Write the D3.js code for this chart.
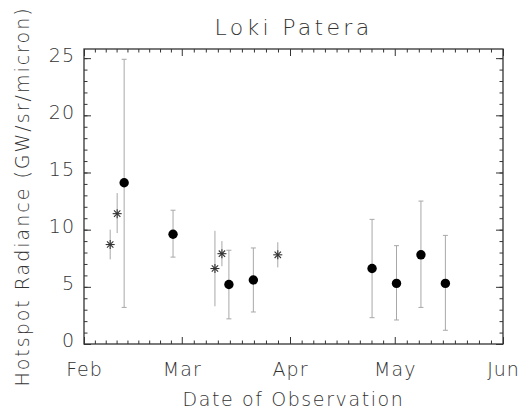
<!DOCTYPE html>
<html>
<head>
<meta charset="utf-8">
<script src="https://cdn.jsdelivr.net/npm/d3@7"></script>
<style>
    body { margin: 0; background: #fff; }
    svg { display: block; }
    svg text { font-family: "DejaVu Sans", sans-serif; font-weight: 200; fill: #333; }
</style>
</head>
<body>
<svg width="521" height="411"></svg>
<script>
// observations (noon UT), radiance and error bar bounds
var obsDates = ['2001-02-08', '2001-02-10', '2001-02-12', '2001-02-26', '2001-03-10', '2001-03-12',
    '2001-03-14', '2001-03-21', '2001-03-28', '2001-04-24', '2001-05-01', '2001-05-08', '2001-05-15'];
var radiance = [8.7, 11.4, 14.1, 9.6, 6.6, 7.9, 5.2, 5.6, 7.8, 6.6, 5.3, 7.8, 5.3];
var errLow = [7.4, 9.7, 3.2, 7.6, 3.3, 6.8, 2.2, 2.8, 6.7, 2.3, 2.1, 3.2, 1.2];
var errHigh = [10.0, 13.2, 24.9, 11.7, 9.9, 9.0, 8.2, 8.4, 8.9, 10.9, 8.6, 12.5, 9.5];
var markerType = ['star', 'star', 'circle', 'circle', 'star', 'star',
    'circle', 'circle', 'star', 'circle', 'circle', 'circle', 'circle'];

// axis ticks
var monthStarts = ['2001-02-01', '2001-03-01', '2001-04-01', '2001-05-01', '2001-06-01'];
var monthLabels = ['Feb', 'Mar', 'Apr', 'May', 'Jun'];
var yTicks = [0, 5, 10, 15, 20, 25];
var yMinorTicks = d3.range(0, 26, 1);

var parseDay = d3.utcParse('%Y-%m-%d');
var data = obsDates.map(function(d, i) {
    return {
        date: d3.utcHour.offset(parseDay(d), 12),
        value: radiance[i],
        lo: errLow[i],
        hi: errHigh[i],
        type: markerType[i]
    };
});
var monthDates = monthStarts.map(parseDay);

// minor ticks split each month into 9 parts
var xMinorTicks = [];
for (var m = 0; m < monthDates.length - 1; m++) {
    var t0 = +monthDates[m], t1 = +monthDates[m + 1];
    for (var k = 1; k < 9; k++) xMinorTicks.push(new Date(t0 + (t1 - t0) * k / 9));
}

var svg = d3.select('svg');
var plot = { left: 84, right: 503, top: 49, bottom: 344 };

var xScale = d3.scaleUtc().domain([monthDates[0], monthDates[4]]).range([plot.left, plot.right]);
var yScale = d3.scaleLinear().domain([0, 25.8]).range([plot.bottom, plot.top]);

var axisColor = '#333';
var fontSize = 19;

function styleAxis(sel) {
    sel.attr('font-family', null).attr('font-size', fontSize);
    sel.select('.domain').remove();
    sel.selectAll('.tick line').attr('stroke', axisColor).attr('stroke-width', 1);
    sel.selectAll('.tick text').attr('fill', null).attr('letter-spacing', 1);
}

// bottom axis with month labels
svg.append('g')
    .attr('transform', 'translate(0,' + plot.bottom + ')')
    .call(d3.axisBottom(xScale).tickValues(monthDates)
        .tickFormat(function(d, i) { return monthLabels[i]; })
        .tickSizeInner(-7).tickSizeOuter(0).tickPadding(19))
    .call(styleAxis);

svg.append('g')
    .attr('transform', 'translate(0,' + plot.bottom + ')')
    .call(d3.axisBottom(xScale).tickValues(xMinorTicks).tickFormat('')
        .tickSizeInner(-3.5).tickSizeOuter(0))
    .call(styleAxis);

// top axis, ticks only
svg.append('g')
    .attr('transform', 'translate(0,' + plot.top + ')')
    .call(d3.axisTop(xScale).tickValues(monthDates).tickFormat('')
        .tickSizeInner(-7).tickSizeOuter(0))
    .call(styleAxis);

svg.append('g')
    .attr('transform', 'translate(0,' + plot.top + ')')
    .call(d3.axisTop(xScale).tickValues(xMinorTicks).tickFormat('')
        .tickSizeInner(-3.5).tickSizeOuter(0))
    .call(styleAxis);

// left axis with labels
svg.append('g')
    .attr('transform', 'translate(' + plot.left + ',0)')
    .call(d3.axisLeft(yScale).tickValues(yTicks)
        .tickSizeInner(-7).tickSizeOuter(0).tickPadding(9))
    .call(styleAxis)
    .selectAll('.tick text').attr('dy', '0.15em');

svg.append('g')
    .attr('transform', 'translate(' + plot.left + ',0)')
    .call(d3.axisLeft(yScale).tickValues(yMinorTicks).tickFormat('')
        .tickSizeInner(-3.5).tickSizeOuter(0))
    .call(styleAxis);

// right axis, ticks only
svg.append('g')
    .attr('transform', 'translate(' + plot.right + ',0)')
    .call(d3.axisRight(yScale).tickValues(yTicks).tickFormat('')
        .tickSizeInner(-7).tickSizeOuter(0))
    .call(styleAxis);

svg.append('g')
    .attr('transform', 'translate(' + plot.right + ',0)')
    .call(d3.axisRight(yScale).tickValues(yMinorTicks).tickFormat('')
        .tickSizeInner(-3.5).tickSizeOuter(0))
    .call(styleAxis);

// frame
svg.append('rect')
    .attr('x', plot.left)
    .attr('y', plot.top)
    .attr('width', plot.right - plot.left)
    .attr('height', plot.bottom - plot.top)
    .attr('fill', 'none')
    .attr('stroke', axisColor)
    .attr('stroke-width', 1.3);

// error bars
var bars = svg.append('g').attr('class', 'error-bars');

bars.selectAll('line.err')
    .data(data)
    .enter().append('line')
    .attr('class', 'err')
    .attr('x1', function(d) { return xScale(d.date); })
    .attr('x2', function(d) { return xScale(d.date); })
    .attr('y1', function(d) { return yScale(d.lo); })
    .attr('y2', function(d) { return yScale(d.hi); })
    .attr('stroke', '#a8a8a8')
    .attr('stroke-width', 1);

// caps on the circle points only
var capped = data.filter(function(d) { return d.type === 'circle'; });
['lo', 'hi'].forEach(function(key) {
    bars.selectAll('line.cap-' + key)
        .data(capped)
        .enter().append('line')
        .attr('class', 'cap-' + key)
        .attr('x1', function(d) { return xScale(d.date) - 2.5; })
        .attr('x2', function(d) { return xScale(d.date) + 2.5; })
        .attr('y1', function(d) { return yScale(d[key]); })
        .attr('y2', function(d) { return yScale(d[key]); })
        .attr('stroke', '#a8a8a8')
        .attr('stroke-width', 1);
});

// filled circles
svg.append('g')
    .selectAll('circle')
    .data(capped)
    .enter().append('circle')
    .attr('cx', function(d) { return xScale(d.date); })
    .attr('cy', function(d) { return yScale(d.value); })
    .attr('r', 4.7)
    .attr('fill', '#000');

// asterisks
var starSize = 4.5;
var stars = svg.append('g')
    .selectAll('g')
    .data(data.filter(function(d) { return d.type === 'star'; }))
    .enter().append('g')
    .attr('transform', function(d) {
        return 'translate(' + xScale(d.date) + ',' + yScale(d.value) + ')';
    });

[0, 45, 90, 135].forEach(function(angle) {
    var a = angle * Math.PI / 180;
    stars.append('line')
        .attr('x1', -starSize * Math.cos(a))
        .attr('y1', -starSize * Math.sin(a))
        .attr('x2', starSize * Math.cos(a))
        .attr('y2', starSize * Math.sin(a))
        .attr('stroke', '#333')
        .attr('stroke-width', 1.1);
});

// titles
svg.append('text')
    .attr('x', (plot.left + plot.right) / 2)
    .attr('y', 35)
    .attr('text-anchor', 'middle')
    .attr('font-size', 22)
    .attr('letter-spacing', 3.3)
    .text('Loki Patera');

svg.append('text')
    .attr('x', (plot.left + plot.right) / 2)
    .attr('y', 406)
    .attr('text-anchor', 'middle')
    .attr('font-size', fontSize)
    .attr('letter-spacing', 1.6)
    .text('Date of Observation');

svg.append('text')
    .attr('transform', 'translate(29,' + (plot.top + plot.bottom) / 2 + ') rotate(-90)')
    .attr('text-anchor', 'middle')
    .attr('font-size', fontSize)
    .attr('letter-spacing', 2)
    .text('Hotspot Radiance (GW/sr/micron)');
</script>
</body>
</html>
